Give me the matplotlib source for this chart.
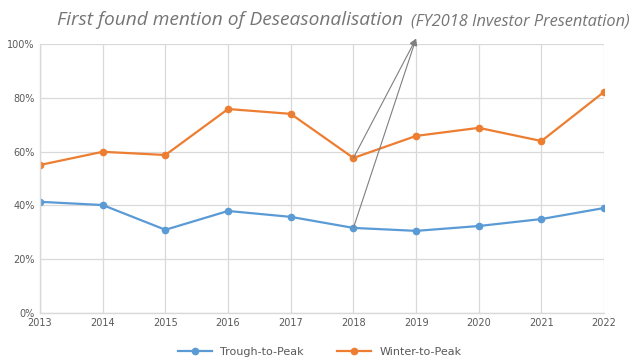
import numpy as np
import matplotlib.pyplot as plt

years = [2013, 2014, 2015, 2016, 2017, 2018, 2019, 2020, 2021, 2022]
trough_to_peak = [41.3, 40.1, 30.9, 37.9, 35.7, 31.6, 30.5, 32.3, 34.9, 39.0]
winter_to_peak = [55.0, 59.9, 58.7, 75.8, 74.0, 57.6, 65.8, 68.8, 63.9, 82.2]
yticks = [0, 20, 40, 60, 80, 100]
arrow_from = 2018
arrow_to = (2019, 102)

blue = '#5b9bd5'
orange = '#ed7d31'
grid_c = '#d9d9d9'
text_c = '#595959'

fig = plt.figure(figsize=(6.4, 3.63), dpi=100)
ax = fig.add_axes([0.0625, 0.138, 0.8815, 0.741])

ax.plot(years, trough_to_peak, color=blue, lw=1.6, marker='o', ms=4.5, label='Trough-to-Peak')
ax.plot(years, winter_to_peak, color=orange, lw=1.6, marker='o', ms=4.5, label='Winter-to-Peak')

# arrows from the 2018 points up to the 2019 top
i = years.index(arrow_from)
for series in (trough_to_peak, winter_to_peak):
    ax.annotate('', xy=arrow_to, xytext=(arrow_from, series[i]),
                arrowprops=dict(arrowstyle='-|>', color='#7f7f7f', lw=0.8,
                                mutation_scale=10, shrinkA=0, shrinkB=0),
                annotation_clip=False)

ax.set_xlim(years[0], years[-1])
ax.set_ylim(0, 100)
ax.set_xticks(years)
ax.set_yticks(yticks)
ax.set_yticklabels([f'{v}%' for v in yticks])
ax.grid(True, color=grid_c, lw=0.9)
ax.set_axisbelow(True)
for s in ['top', 'right']:
    ax.spines[s].set_visible(False)
for s in ['left', 'bottom']:
    ax.spines[s].set_color(grid_c)
    ax.spines[s].set_linewidth(1.0)
ax.tick_params(length=0, labelsize=7, labelcolor=text_c, pad=4)

fig.text(0.089, 0.93, 'First found mention of Deseasonalisation', fontsize=13.8,
         style='italic', color='#757575', family='Open Sans', va='baseline')
fig.text(0.642, 0.93, '(FY2018 Investor Presentation)', fontsize=11.8,
         style='italic', color='#757575', family='Open Sans', va='baseline')

fig.legend(loc='lower center', bbox_to_anchor=(0.5, -0.01), ncol=2, frameon=False,
           fontsize=8, labelcolor=text_c, columnspacing=3, handlelength=3)

fig.savefig('out.png', dpi=100)
